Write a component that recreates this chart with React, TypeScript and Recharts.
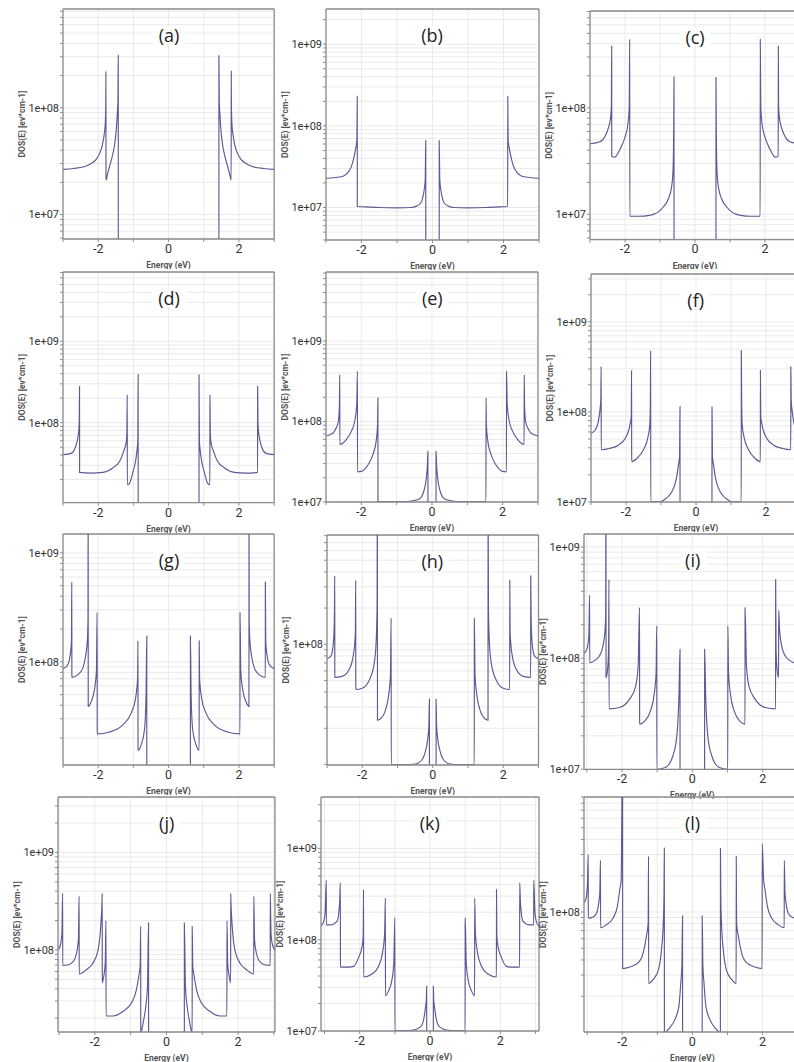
import React from "react";
import {
  LineChart,
  Line,
  XAxis,
  YAxis,
  CartesianGrid,
  ReferenceLine,
} from "recharts";

type Pt = [number, number];

// DOS(E) curves, [energy eV, DOS]
// 1e5 marks points inside a gap (below every panel's axis)
const dosA: Pt[] = [
  [-3.0, 2.65e7], [-2.7, 2.7e7], [-2.4, 2.8e7], [-2.2, 3.0e7], [-2.05, 3.3e7], [-1.95, 3.8e7],
  [-1.88, 4.5e7], [-1.83, 5.6e7], [-1.8, 7.0e7], [-1.785, 1.05e8], [-1.78, 2.2e8], [-1.778, 2.1e7],
  [-1.74, 2.35e7], [-1.68, 2.8e7], [-1.6, 3.5e7], [-1.53, 4.6e7], [-1.49, 6.0e7], [-1.46, 8.5e7],
  [-1.44, 1.15e8], [-1.43, 3.1e8], [-1.428, 1e5],
  [1.428, 1e5], [1.43, 3.1e8], [1.44, 1.15e8], [1.46, 8.5e7], [1.49, 6.0e7], [1.53, 4.6e7],
  [1.6, 3.5e7], [1.68, 2.8e7], [1.74, 2.35e7], [1.778, 2.1e7], [1.78, 2.2e8], [1.785, 1.05e8],
  [1.8, 7.0e7], [1.83, 5.6e7], [1.88, 4.5e7], [1.95, 3.8e7], [2.05, 3.3e7], [2.2, 3.0e7],
  [2.4, 2.8e7], [2.7, 2.7e7], [3.0, 2.65e7],
];

const dosB: Pt[] = [
  [-3.0, 2.28e7], [-2.54, 2.4e7], [-2.31, 3.0e7], [-2.22, 4.0e7], [-2.16, 5.4e7], [-2.13, 6.7e7],
  [-2.12, 2.3e8], [-2.118, 1.03e7], [-1.9, 1.02e7], [-1.5, 1.0e7], [-1.0, 9.9e6], [-0.6, 1.0e7],
  [-0.45, 1.04e7], [-0.34, 1.12e7], [-0.27, 1.35e7], [-0.23, 1.7e7], [-0.205, 2.2e7], [-0.19, 6.6e7],
  [-0.188, 1e5],
  [0.188, 1e5], [0.19, 6.6e7], [0.205, 2.2e7], [0.23, 1.7e7], [0.27, 1.35e7], [0.34, 1.12e7],
  [0.45, 1.04e7], [0.6, 1.0e7], [1.0, 9.9e6], [1.5, 1.0e7], [1.9, 1.02e7], [2.118, 1.03e7],
  [2.12, 2.3e8], [2.13, 6.7e7], [2.16, 5.4e7], [2.22, 4.0e7], [2.31, 3.0e7], [2.54, 2.4e7],
  [3.0, 2.28e7],
];

const dosC: Pt[] = [
  [-3.0, 4.6e7], [-2.71, 4.8e7], [-2.57, 5.4e7], [-2.48, 6.4e7], [-2.42, 7.7e7], [-2.39, 1.0e8],
  [-2.38, 3.8e8], [-2.378, 3.5e7], [-2.29, 3.45e7], [-2.14, 4.1e7], [-2.0, 5.3e7], [-1.92, 6.9e7],
  [-1.88, 1.0e8], [-1.865, 4.4e8], [-1.862, 9.6e6], [-1.6, 9.6e6], [-1.3, 9.8e6], [-1.19, 1.0e7],
  [-0.9, 1.18e7], [-0.76, 1.4e7], [-0.67, 1.8e7], [-0.63, 2.5e7], [-0.615, 4.0e7], [-0.607, 7.1e7],
  [-0.6, 1.95e8], [-0.598, 1e5],
  [0.598, 1e5], [0.6, 1.95e8], [0.607, 7.1e7], [0.615, 4.0e7], [0.63, 2.5e7], [0.67, 1.8e7],
  [0.76, 1.4e7], [0.9, 1.18e7], [1.19, 1.0e7], [1.3, 9.8e6], [1.6, 9.6e6], [1.862, 9.6e6],
  [1.865, 4.4e8], [1.88, 1.0e8], [1.92, 6.9e7], [2.0, 5.3e7], [2.14, 4.1e7], [2.29, 3.45e7],
  [2.378, 3.5e7], [2.38, 3.8e8], [2.39, 1.0e8], [2.42, 7.7e7], [2.48, 6.4e7], [2.57, 5.4e7],
  [2.71, 4.8e7], [3.0, 4.6e7],
];

const dosD: Pt[] = [
  [-3.0, 4.05e7], [-2.77, 4.2e7], [-2.64, 5.1e7], [-2.58, 6.5e7], [-2.54, 9.5e7], [-2.53, 2.8e8],
  [-2.528, 2.45e7], [-2.2, 2.4e7], [-1.87, 2.45e7], [-1.58, 2.8e7], [-1.39, 3.35e7], [-1.28, 4.4e7],
  [-1.2, 5.9e7], [-1.185, 7.8e7], [-1.175, 2.2e8], [-1.173, 1.73e7], [-1.11, 1.8e7], [-1.01, 2.5e7],
  [-0.94, 3.35e7], [-0.89, 4.9e7], [-0.875, 5.9e7], [-0.865, 3.9e8], [-0.863, 1e5],
  [0.863, 1e5], [0.865, 3.9e8], [0.875, 5.9e7], [0.89, 4.9e7], [0.94, 3.35e7], [1.01, 2.5e7],
  [1.11, 1.8e7], [1.173, 1.73e7], [1.175, 2.2e8], [1.185, 7.8e7], [1.2, 5.9e7], [1.28, 4.4e7],
  [1.39, 3.35e7], [1.58, 2.8e7], [1.87, 2.45e7], [2.2, 2.4e7], [2.528, 2.45e7], [2.53, 2.8e8],
  [2.54, 9.5e7], [2.58, 6.5e7], [2.64, 5.1e7], [2.77, 4.2e7], [3.0, 4.05e7],
];

const dosE: Pt[] = [
  [-3.0, 6.6e7], [-2.8, 7.2e7], [-2.71, 8.35e7], [-2.65, 1.0e8], [-2.62, 1.6e8], [-2.61, 3.8e8],
  [-2.608, 5.2e7], [-2.42, 6.0e7], [-2.28, 7.6e7], [-2.19, 1.0e8], [-2.13, 1.6e8], [-2.11, 4.2e8],
  [-2.108, 2.37e7], [-2.0, 2.4e7], [-1.81, 2.9e7], [-1.67, 3.9e7], [-1.58, 5.7e7], [-1.54, 9.2e7],
  [-1.53, 1.97e8], [-1.528, 1.02e7], [-1.2, 1.01e7], [-0.8, 1.01e7], [-0.58, 1.03e7], [-0.35, 1.1e7],
  [-0.23, 1.37e7], [-0.16, 2.0e7], [-0.13, 2.9e7], [-0.115, 4.3e7], [-0.113, 1e5],
  [0.113, 1e5], [0.115, 4.3e7], [0.13, 2.9e7], [0.16, 2.0e7], [0.23, 1.37e7], [0.35, 1.1e7],
  [0.58, 1.03e7], [0.8, 1.01e7], [1.2, 1.01e7], [1.528, 1.02e7], [1.53, 1.97e8], [1.54, 9.2e7],
  [1.58, 5.7e7], [1.67, 3.9e7], [1.81, 2.9e7], [2.0, 2.4e7], [2.108, 2.37e7], [2.11, 4.2e8],
  [2.13, 1.6e8], [2.19, 1.0e8], [2.28, 7.6e7], [2.42, 6.0e7], [2.608, 5.2e7], [2.61, 3.8e8],
  [2.62, 1.6e8], [2.65, 1.0e8], [2.71, 8.35e7], [2.8, 7.2e7], [3.0, 6.6e7],
];

const dosF: Pt[] = [
  [-3.0, 5.8e7], [-2.88, 6.3e7], [-2.8, 7.5e7], [-2.75, 1.0e8], [-2.72, 1.36e8], [-2.71, 3.2e8],
  [-2.708, 3.8e7], [-2.45, 3.95e7], [-2.21, 4.3e7], [-2.02, 5.1e7], [-1.92, 6.3e7], [-1.87, 7.8e7],
  [-1.85, 8.9e7], [-1.84, 2.9e8], [-1.838, 2.8e7], [-1.69, 3.05e7], [-1.5, 3.8e7], [-1.38, 5.1e7],
  [-1.32, 7.2e7], [-1.305, 1.2e8], [-1.295, 4.8e8], [-1.293, 1.01e7], [-1.0, 1.01e7], [-0.92, 1.05e7],
  [-0.69, 1.3e7], [-0.56, 1.83e7], [-0.5, 2.6e7], [-0.47, 3.2e7], [-0.457, 1.15e8], [-0.455, 1e5],
  [0.455, 1e5], [0.457, 1.15e8], [0.47, 3.2e7], [0.5, 2.6e7], [0.56, 1.83e7], [0.69, 1.3e7],
  [0.92, 1.05e7], [1.0, 1.01e7], [1.293, 1.01e7], [1.295, 4.8e8], [1.305, 1.2e8], [1.32, 7.2e7],
  [1.38, 5.1e7], [1.5, 3.8e7], [1.69, 3.05e7], [1.838, 2.8e7], [1.84, 2.9e8], [1.85, 8.9e7],
  [1.87, 7.8e7], [1.92, 6.3e7], [2.02, 5.1e7], [2.21, 4.3e7], [2.45, 3.95e7], [2.708, 3.8e7],
  [2.71, 3.2e8], [2.72, 1.36e8], [2.75, 1.0e8], [2.8, 7.5e7], [2.88, 6.3e7], [3.0, 5.8e7],
];

const dosG: Pt[] = [
  [-3.0, 8.7e7], [-2.91, 9.0e7], [-2.83, 1.0e8], [-2.79, 1.2e8], [-2.76, 1.54e8], [-2.75, 5.4e8],
  [-2.748, 7.2e7], [-2.58, 7.6e7], [-2.44, 8.7e7], [-2.36, 1.12e8], [-2.31, 1.54e8], [-2.29, 2.4e8],
  [-2.285, 3e9], [-2.283, 3.9e7], [-2.2, 4.3e7], [-2.1, 5.7e7], [-2.05, 8.3e7], [-2.03, 2.85e8],
  [-2.028, 2.18e7], [-1.68, 2.27e7], [-1.3, 2.64e7], [-1.06, 3.4e7], [-0.94, 4.6e7], [-0.88, 7.1e7],
  [-0.87, 1.56e8], [-0.868, 1.54e7], [-0.78, 1.73e7], [-0.68, 2.47e7], [-0.64, 4.98e7], [-0.62, 1.73e8],
  [-0.618, 1e5],
  [0.618, 1e5], [0.62, 1.73e8], [0.64, 4.98e7], [0.68, 2.47e7], [0.78, 1.73e7], [0.868, 1.54e7],
  [0.87, 1.56e8], [0.88, 7.1e7], [0.94, 4.6e7], [1.06, 3.4e7], [1.3, 2.64e7], [1.68, 2.27e7],
  [2.028, 2.18e7], [2.03, 2.85e8], [2.05, 8.3e7], [2.1, 5.7e7], [2.2, 4.3e7], [2.283, 3.9e7],
  [2.285, 3e9], [2.29, 2.4e8], [2.31, 1.54e8], [2.36, 1.12e8], [2.44, 8.7e7], [2.58, 7.6e7],
  [2.748, 7.2e7], [2.75, 5.4e8], [2.76, 1.54e8], [2.79, 1.2e8], [2.83, 1.0e8], [2.91, 9.0e7],
  [3.0, 8.7e7],
];

const dosH: Pt[] = [
  [-3.0, 7.6e7], [-2.9, 7.9e7], [-2.86, 8.4e7], [-2.81, 1.12e8], [-2.79, 1.7e8], [-2.78, 3.7e8],
  [-2.778, 5.3e7], [-2.57, 5.4e7], [-2.38, 6.1e7], [-2.27, 7.6e7], [-2.21, 1.05e8], [-2.195, 1.27e8],
  [-2.185, 3.4e8], [-2.183, 4.2e7], [-2.0, 4.3e7], [-1.82, 4.9e7], [-1.67, 6.7e7], [-1.61, 9.9e7],
  [-1.58, 2.0e8], [-1.57, 2e9], [-1.568, 2.34e7], [-1.48, 2.4e7], [-1.34, 2.84e7], [-1.25, 3.8e7],
  [-1.2, 5.5e7], [-1.18, 1.65e8], [-1.178, 1.0e7], [-0.8, 1.0e7], [-0.49, 1.01e7], [-0.3, 1.1e7],
  [-0.21, 1.28e7], [-0.14, 1.65e7], [-0.11, 2.1e7], [-0.095, 3.5e7], [-0.093, 1e5],
  [0.093, 1e5], [0.095, 3.5e7], [0.11, 2.1e7], [0.14, 1.65e7], [0.21, 1.28e7], [0.3, 1.1e7],
  [0.49, 1.01e7], [0.8, 1.0e7], [1.178, 1.0e7], [1.18, 1.65e8], [1.2, 5.5e7], [1.25, 3.8e7],
  [1.34, 2.84e7], [1.48, 2.4e7], [1.568, 2.34e7], [1.57, 2e9], [1.58, 2.0e8], [1.61, 9.9e7],
  [1.67, 6.7e7], [1.82, 4.9e7], [2.0, 4.3e7], [2.183, 4.2e7], [2.185, 3.4e8], [2.195, 1.27e8],
  [2.21, 1.05e8], [2.27, 7.6e7], [2.38, 6.1e7], [2.57, 5.4e7], [2.778, 5.3e7], [2.78, 3.7e8],
  [2.79, 1.7e8], [2.81, 1.12e8], [2.86, 8.4e7], [2.9, 7.9e7], [3.0, 7.6e7],
];

const dosI: Pt[] = [
  [-3.08, 1.1e8], [-3.06, 1.12e8], [-3.0, 1.2e8], [-2.96, 1.38e8], [-2.94, 1.64e8], [-2.92, 3.7e8],
  [-2.918, 9.1e7], [-2.78, 9.5e7], [-2.64, 1.05e8], [-2.54, 1.29e8], [-2.48, 1.82e8], [-2.465, 2.4e8],
  [-2.455, 3e9], [-2.453, 6.7e7], [-2.42, 7.4e7], [-2.39, 1.0e8], [-2.38, 1.3e8], [-2.37, 5.1e8],
  [-2.368, 3.5e7], [-2.07, 3.6e7], [-1.78, 4.3e7], [-1.61, 5.6e7], [-1.54, 8.5e7], [-1.5, 2.86e8],
  [-1.498, 2.55e7], [-1.36, 2.7e7], [-1.19, 3.35e7], [-1.09, 4.6e7], [-1.03, 7.4e7], [-1.01, 1.95e8],
  [-1.008, 1.0e7], [-0.74, 1.05e7], [-0.55, 1.33e7], [-0.44, 2.0e7], [-0.38, 4.6e7], [-0.35, 1.2e8],
  [-0.348, 1e5],
  [0.348, 1e5], [0.35, 1.2e8], [0.38, 4.6e7], [0.44, 2.0e7], [0.55, 1.33e7], [0.74, 1.05e7],
  [1.008, 1.0e7], [1.01, 1.95e8], [1.03, 7.4e7], [1.09, 4.6e7], [1.19, 3.35e7], [1.36, 2.7e7],
  [1.498, 2.55e7], [1.5, 2.86e8], [1.54, 8.5e7], [1.61, 5.6e7], [1.78, 4.3e7], [2.07, 3.6e7],
  [2.368, 3.5e7], [2.37, 5.1e8], [2.38, 1.3e8], [2.39, 1.0e8], [2.42, 7.4e7], [2.453, 6.7e7],
  [2.455, 2.7e8], [2.465, 2.4e8], [2.48, 1.82e8], [2.54, 1.29e8], [2.64, 1.05e8], [2.78, 9.5e7],
  [2.918, 9.1e7], [2.92, 3.7e8], [2.94, 1.64e8], [2.96, 1.38e8], [3.0, 1.2e8], [3.06, 1.12e8],
  [3.08, 1.1e8],
];

const dosJ: Pt[] = [
  [-3.03, 1.0e8], [-2.96, 1.13e8], [-2.92, 1.5e8], [-2.9, 3.8e8], [-2.898, 6.95e7], [-2.74, 7.05e7],
  [-2.6, 7.65e7], [-2.51, 9.3e7], [-2.46, 1.28e8], [-2.44, 3.56e8], [-2.438, 5.66e7], [-2.23, 6.3e7],
  [-2.05, 7.35e7], [-1.91, 1.0e8], [-1.83, 1.9e8], [-1.8, 3.2e8], [-1.795, 3.8e8], [-1.793, 4.6e7],
  [-1.75, 5.4e7], [-1.71, 7.35e7], [-1.69, 2.0e8], [-1.688, 2.1e7], [-1.49, 2.1e7], [-1.21, 2.35e7],
  [-0.98, 2.85e7], [-0.84, 3.9e7], [-0.76, 5.8e7], [-0.735, 6.8e7], [-0.72, 1.75e8], [-0.718, 1.4e7],
  [-0.65, 1.8e7], [-0.58, 2.6e7], [-0.53, 4.2e7], [-0.5, 1.9e8], [-0.498, 1e5],
  [0.498, 1e5], [0.5, 1.9e8], [0.53, 4.2e7], [0.58, 2.6e7], [0.65, 1.8e7], [0.718, 1.4e7],
  [0.72, 1.75e8], [0.735, 6.8e7], [0.76, 5.8e7], [0.84, 3.9e7], [0.98, 2.85e7], [1.21, 2.35e7],
  [1.49, 2.1e7], [1.688, 2.1e7], [1.69, 2.0e8], [1.71, 7.35e7], [1.75, 5.4e7], [1.793, 4.6e7],
  [1.795, 3.8e8], [1.8, 3.2e8], [1.83, 1.9e8], [1.91, 1.0e8], [2.05, 7.35e7], [2.23, 6.3e7],
  [2.438, 5.66e7], [2.44, 3.56e8], [2.46, 1.28e8], [2.51, 9.3e7], [2.6, 7.65e7], [2.74, 7.05e7],
  [2.898, 6.95e7], [2.9, 3.8e8], [2.92, 1.5e8], [2.96, 1.13e8], [3.03, 1.0e8],
];

const dosK: Pt[] = [
  [-3.1, 1.4e8], [-3.02, 1.6e8], [-2.98, 2.1e8], [-2.95, 4.5e8], [-2.948, 1.45e8], [-2.83, 1.45e8],
  [-2.64, 1.6e8], [-2.6, 1.9e8], [-2.57, 2.6e8], [-2.55, 4.2e8], [-2.548, 5.0e7], [-2.31, 5.0e7],
  [-2.17, 5.1e7], [-2.03, 6.4e7], [-1.93, 8.5e7], [-1.9, 1.1e8], [-1.89, 3.55e8], [-1.888, 3.9e7],
  [-1.65, 4.2e7], [-1.46, 5.15e7], [-1.35, 7.2e7], [-1.29, 1.19e8], [-1.27, 2.85e8], [-1.268, 2.42e7],
  [-1.18, 2.75e7], [-1.08, 3.68e7], [-1.03, 5.6e7], [-1.0, 1.74e8], [-0.998, 1.01e7], [-0.7, 1.01e7],
  [-0.51, 1.02e7], [-0.27, 1.11e7], [-0.18, 1.34e7], [-0.13, 1.8e7], [-0.105, 2.2e7], [-0.095, 3.1e7],
  [-0.093, 1e5],
  [0.093, 1e5], [0.095, 3.1e7], [0.105, 2.2e7], [0.13, 1.8e7], [0.18, 1.34e7], [0.27, 1.11e7],
  [0.51, 1.02e7], [0.7, 1.01e7], [0.998, 1.01e7], [1.0, 1.74e8], [1.03, 5.6e7], [1.08, 3.68e7],
  [1.18, 2.75e7], [1.268, 2.42e7], [1.27, 2.85e8], [1.29, 1.19e8], [1.35, 7.2e7], [1.46, 5.15e7],
  [1.65, 4.2e7], [1.888, 3.9e7], [1.89, 3.55e8], [1.9, 1.1e8], [1.93, 8.5e7], [2.03, 6.4e7],
  [2.17, 5.1e7], [2.31, 5.0e7], [2.548, 5.0e7], [2.55, 4.2e8], [2.57, 2.6e8], [2.6, 1.9e8],
  [2.64, 1.6e8], [2.83, 1.45e8], [2.948, 1.45e8], [2.95, 4.5e8], [2.98, 2.1e8], [3.02, 1.6e8],
  [3.1, 1.4e8],
];

const dosL: Pt[] = [
  [-3.09, 1.2e8], [-3.06, 1.23e8], [-3.02, 1.35e8], [-2.99, 1.74e8], [-2.97, 3.0e8], [-2.968, 8.9e7],
  [-2.83, 9.1e7], [-2.73, 9.8e7], [-2.67, 1.19e8], [-2.64, 1.44e8], [-2.62, 2.68e8], [-2.618, 7.4e7],
  [-2.45, 7.85e7], [-2.26, 8.9e7], [-2.14, 1.11e8], [-2.07, 1.53e8], [-2.03, 1.85e8], [-1.99, 3e9],
  [-1.988, 3.4e7], [-1.78, 3.5e7], [-1.54, 3.8e7], [-1.4, 4.6e7], [-1.31, 6.3e7], [-1.26, 8.1e7],
  [-1.25, 2.9e8], [-1.248, 2.55e7], [-1.12, 2.75e7], [-0.97, 3.3e7], [-0.88, 4.9e7], [-0.83, 8.1e7],
  [-0.81, 1.35e8], [-0.8, 3.4e8], [-0.798, 1.0e7], [-0.64, 1.1e7], [-0.5, 1.28e7], [-0.385, 1.65e7],
  [-0.33, 2.6e7], [-0.3, 3.55e7], [-0.28, 9.3e7], [-0.278, 1e5],
  [0.278, 1e5], [0.28, 9.3e7], [0.3, 3.55e7], [0.33, 2.6e7], [0.385, 1.65e7], [0.5, 1.28e7],
  [0.64, 1.1e7], [0.798, 1.0e7], [0.8, 3.4e8], [0.81, 1.35e8], [0.83, 8.1e7], [0.88, 4.9e7],
  [0.97, 3.3e7], [1.12, 2.75e7], [1.248, 2.55e7], [1.25, 2.9e8], [1.26, 8.1e7], [1.31, 6.3e7],
  [1.4, 4.6e7], [1.54, 3.8e7], [1.78, 3.5e7], [1.988, 3.4e7], [1.99, 3.7e8], [2.03, 1.85e8],
  [2.07, 1.53e8], [2.14, 1.11e8], [2.26, 8.9e7], [2.45, 7.85e7], [2.618, 7.4e7], [2.62, 2.68e8],
  [2.64, 1.44e8], [2.67, 1.19e8], [2.73, 9.8e7], [2.83, 9.1e7], [2.968, 8.9e7], [2.97, 3.0e8],
  [2.99, 1.74e8], [3.02, 1.35e8], [3.06, 1.23e8], [3.09, 1.2e8],
];

// labelled decades on each y axis
const yLabelsA = [1e7, 1e8];
const yLabelsB = [1e7, 1e8, 1e9];
const yLabelsC = [1e7, 1e8];
const yLabelsD = [1e8, 1e9];
const yLabelsE = [1e7, 1e8, 1e9];
const yLabelsF = [1e7, 1e8, 1e9];
const yLabelsG = [1e8, 1e9];
const yLabelsH = [1e8];
const yLabelsI = [1e7, 1e8, 1e9];
const yLabelsJ = [1e8, 1e9];
const yLabelsK = [1e7, 1e8, 1e9];
const yLabelsL = [1e8];

const xGrid = [-3, -2, -1, 0, 1, 2, 3];
const xLabels = [-2, 0, 2];
const minorSteps = [1, 2, 3, 4, 5, 6, 7, 8, 9];

interface Panel {
  title: string;
  data: Pt[];
  labels: number[];
  yMin: number;
  yMax: number;
  xMax: number;
  x0: number; // pixel of E = 0
  s: number; // px per eV
  top: number;
  bottom: number;
}

const PANELS: Panel[] = [
  { title: "(a)", data: dosA, labels: yLabelsA, yMin: 5.9e6, yMax: 8.4e8, xMax: 3, x0: 169, s: 35.2, top: 9, bottom: 239 },
  { title: "(b)", data: dosB, labels: yLabelsB, yMin: 4.0e6, yMax: 2.7e9, xMax: 3, x0: 432, s: 35.5, top: 9, bottom: 240 },
  { title: "(c)", data: dosC, labels: yLabelsC, yMin: 5.8e6, yMax: 8.1e8, xMax: 3, x0: 695, s: 35, top: 10.7, bottom: 239.3 },
  { title: "(d)", data: dosD, labels: yLabelsD, yMin: 1.04e7, yMax: 7.1e9, xMax: 3, x0: 169, s: 35.2, top: 272.3, bottom: 503 },
  { title: "(e)", data: dosE, labels: yLabelsE, yMin: 1e7, yMax: 7.2e9, xMax: 3, x0: 432.3, s: 35.33, top: 272.3, bottom: 502.3 },
  { title: "(f)", data: dosF, labels: yLabelsF, yMin: 1e7, yMax: 3.4e9, xMax: 3, x0: 695.7, s: 35, top: 274.3, bottom: 502.3 },
  { title: "(g)", data: dosG, labels: yLabelsG, yMin: 1.13e7, yMax: 1.49e9, xMax: 3, x0: 169, s: 35.2, top: 534, bottom: 765 },
  { title: "(h)", data: dosH, labels: yLabelsH, yMin: 9.9e6, yMax: 8.1e8, xMax: 3, x0: 432.3, s: 35.25, top: 535, bottom: 765 },
  { title: "(i)", data: dosI, labels: yLabelsI, yMin: 1e7, yMax: 1.31e9, xMax: 3.08, x0: 692.7, s: 35.17, top: 534, bottom: 769.3 },
  { title: "(j)", data: dosJ, labels: yLabelsJ, yMin: 1.44e7, yMax: 3.7e9, xMax: 3.03, x0: 166.7, s: 35.8, top: 797.3, bottom: 1032.3 },
  { title: "(k)", data: dosK, labels: yLabelsK, yMin: 1e7, yMax: 3.65e9, xMax: 3.1, x0: 429.7, s: 35.17, top: 797.3, bottom: 1031.3 },
  { title: "(l)", data: dosL, labels: yLabelsL, yMin: 1.01e7, yMax: 9.0e8, xMax: 3.09, x0: 692.5, s: 35.08, top: 797.3, bottom: 1032.3 },
];

const YW = 45;
const XH = 30;
const MT = 2;
const MR = 2;
const FRAME = "#8c8c8c";
const CURVE = "#5a5a94";

function logTicks(min: number, max: number) {
  const out: number[] = [];
  for (let d = Math.floor(Math.log10(min)); d <= Math.ceil(Math.log10(max)); d++) {
    for (const m of minorSteps) {
      const v = m * 10 ** d;
      if (v >= min && v <= max) out.push(v);
    }
  }
  return out;
}

const YLabel = (props: any) => {
  const vb = props.viewBox || { x: 0, y: 0, width: YW, height: 0 };
  const x = vb.x + vb.width - 41;
  const y = vb.y + vb.height / 2;
  return (
    <text
      x={x}
      y={y}
      transform={`rotate(-90 ${x} ${y})`}
      textAnchor="middle"
      dominantBaseline="central"
      fontSize={8.5}
      fontWeight={700}
      fill="#555"
    >
      DOS(E) [ev*cm-1]
    </text>
  );
};

function DosPanel({ p }: { p: Panel }) {
  const plotLeft = p.x0 - p.s * p.xMax;
  const plotW = 2 * p.s * p.xMax;
  const plotH = p.bottom - p.top;
  const rows = p.data.map(([e, dos]) => ({ e, dos }));
  const yTicks = logTicks(p.yMin, p.yMax);
  const xTicks = xGrid.filter((v) => Math.abs(v) <= p.xMax + 1e-9);

  const fmtY = (v: number) =>
    p.labels.some((l) => Math.abs(l - v) / l < 1e-9)
      ? `1e+${String(Math.round(Math.log10(v))).padStart(2, "0")}`
      : "";

  return (
    <>
      <div style={{ position: "absolute", left: plotLeft - YW, top: p.top - MT }}>
        <LineChart
          width={YW + plotW + MR}
          height={MT + plotH + XH}
          data={rows}
          margin={{ top: MT, right: MR, left: 0, bottom: 0 }}
        >
          <CartesianGrid stroke="#e4e4e4" strokeWidth={0.8} />
          <XAxis
            dataKey="e"
            type="number"
            domain={[-p.xMax, p.xMax]}
            allowDataOverflow
            ticks={xTicks}
            interval={0}
            tickFormatter={(v: number) => (xLabels.includes(v) ? String(v) : "")}
            height={XH}
            tickSize={3}
            tickMargin={2}
            tick={{ fontSize: 12.5, fill: "#333" }}
            axisLine={{ stroke: FRAME, strokeWidth: 1.3 }}
            tickLine={{ stroke: FRAME }}
            label={{ value: "Energy (eV)", position: "insideBottom", offset: 1, fontSize: 8.5, fontWeight: 700, fill: "#555" }}
          />
          <YAxis
            type="number"
            scale="log"
            domain={[p.yMin, p.yMax]}
            allowDataOverflow
            ticks={yTicks}
            interval={0}
            tickFormatter={fmtY}
            width={YW}
            tickSize={3}
            tickMargin={1}
            tick={{ fontSize: 11, fill: "#333" }}
            axisLine={{ stroke: FRAME, strokeWidth: 1.3 }}
            tickLine={{ stroke: FRAME }}
            label={<YLabel />}
          />
          <ReferenceLine y={p.yMax} stroke={FRAME} strokeWidth={1.3} />
          <ReferenceLine x={p.xMax} stroke={FRAME} strokeWidth={1.3} />
          <Line
            dataKey="dos"
            type="monotoneX"
            dot={false}
            stroke={CURVE}
            strokeWidth={1.15}
            isAnimationActive={false}
          />
        </LineChart>
      </div>
      <div
        style={{
          position: "absolute",
          left: p.x0,
          top: p.top + 26,
          transform: "translate(-50%, -50%)",
          background: "#fff",
          padding: "0 6px",
          fontFamily: "'Open Sans', sans-serif",
          fontSize: 18,
          fontWeight: 500,
          color: "#222",
          lineHeight: 1,
        }}
      >
        {p.title}
      </div>
    </>
  );
}

export default function App() {
  return (
    <div
      style={{
        position: "absolute",
        left: 0,
        top: 0,
        width: 794,
        height: 1062,
        overflow: "hidden",
        background: "#fff",
        fontFamily: "Roboto, sans-serif",
      }}
    >
      {PANELS.map((p) => (
        <DosPanel key={p.title} p={p} />
      ))}
    </div>
  );
}
